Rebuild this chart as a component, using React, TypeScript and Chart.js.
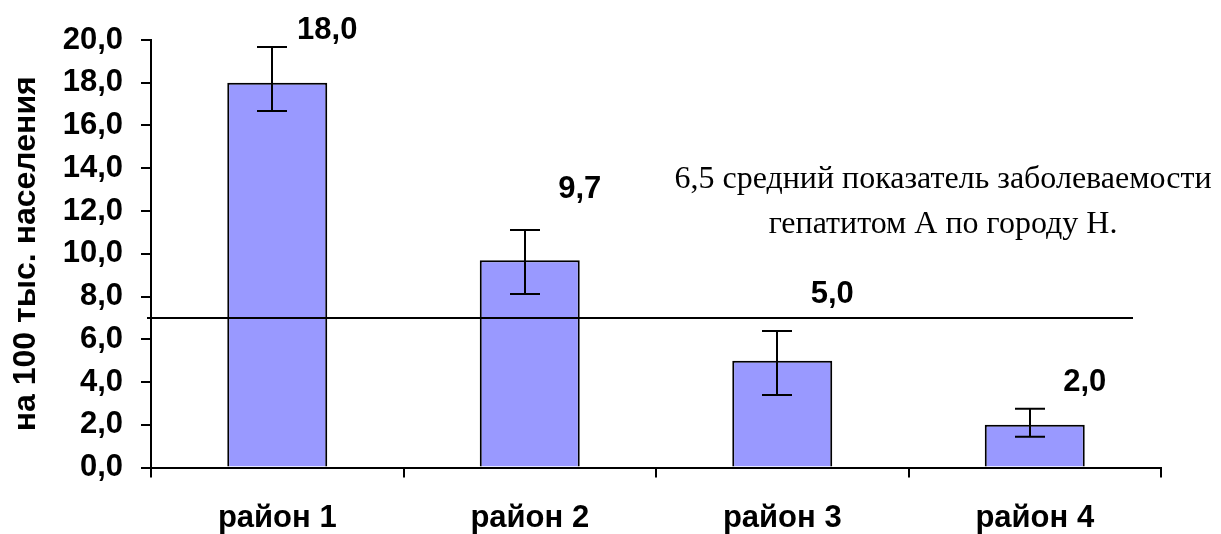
import React, { useEffect, useRef } from "react";
import { Chart, registerables } from "chart.js";

Chart.register(...registerables);

const categories = ["район 1", "район 2", "район 3", "район 4"];
const values = [18.0, 9.7, 5.0, 2.0];
const errHigh = [19.67, 11.11, 6.39, 2.75];
const errLow = [16.68, 8.12, 3.39, 1.44];
const labelAt = [20.45, 13.0, 8.1, 4.0];
const valueLabels = ["18,0", "9,7", "5,0", "2,0"];
const averageLine = 7.0;
const noteLines = ["6,5 средний показатель заболеваемости", "гепатитом А по городу Н."];
const yTitle = "на 100 тыс. населения";

const SANS = "'Liberation Sans', Arial, sans-serif";
const SERIF = "'Liberation Serif', 'Times New Roman', serif";

const overlay = {
  id: "overlay",
  afterDatasetsDraw(chart: any) {
    const ctx = chart.ctx;
    const ys = chart.scales.y;
    const meta = chart.getDatasetMeta(0);
    const area = chart.chartArea;
    ctx.save();
    // average line
    const ly = Math.round(ys.getPixelForValue(averageLine));
    ctx.strokeStyle = "#000";
    ctx.lineWidth = 2;
    ctx.beginPath();
    ctx.moveTo(area.left - 4, ly);
    ctx.lineTo(area.right - 28, ly);
    ctx.stroke();
    // error bars
    meta.data.forEach((bar: any, i: number) => {
      const x = Math.round(bar.x) - 5;
      const yh = ys.getPixelForValue(errHigh[i]);
      const yl = ys.getPixelForValue(errLow[i]);
      ctx.beginPath();
      ctx.moveTo(x, yh);
      ctx.lineTo(x, yl);
      ctx.moveTo(x - 15, yh);
      ctx.lineTo(x + 15, yh);
      ctx.moveTo(x - 15, yl);
      ctx.lineTo(x + 15, yl);
      ctx.stroke();
      // value labels
      ctx.fillStyle = "#000";
      ctx.font = `bold 31px ${SANS}`;
      ctx.textAlign = "center";
      ctx.textBaseline = "middle";
      ctx.fillText(valueLabels[i], bar.x + 50, ys.getPixelForValue(labelAt[i]));
    });
    // note
    ctx.font = `32px ${SERIF}`;
    ctx.textAlign = "center";
    ctx.textBaseline = "alphabetic";
    ctx.fillText(noteLines[0], area.left + 792, area.top + 148);
    ctx.fillText(noteLines[1], area.left + 792, area.top + 193);
    ctx.restore();
  },
};

export default function App() {
  const ref = useRef<HTMLCanvasElement>(null);
  useEffect(() => {
    const chart = new Chart(ref.current!, {
      type: "bar",
      data: {
        labels: categories,
        datasets: [
          {
            data: values,
            backgroundColor: "#9999FF",
            borderColor: "#000",
            borderWidth: 2,
            barPercentage: 0.396,
            categoryPercentage: 1,
          },
        ],
      },
      options: {
        animation: false,
        responsive: false,
        layout: { padding: { top: 40, right: 60, left: 0, bottom: 0 } },
        plugins: { legend: { display: false }, tooltip: { enabled: false } },
        scales: {
          x: {
            offset: true,
            grid: { offset: true, drawOnChartArea: false, drawTicks: true, tickLength: 10, color: "#000", lineWidth: 2 },
            border: { display: true, color: "#000", width: 2 },
            ticks: { color: "#000", font: { family: SANS, size: 31, weight: "bold" }, padding: 22 },
            afterFit: (s: any) => { s.height = 66.5; },
          },
          y: {
            min: 0,
            max: 20,
            ticks: {
              stepSize: 2,
              color: "#000",
              padding: 18,
              font: { family: SANS, size: 31, weight: "bold" },
              callback: (v: any) => Number(v).toFixed(1).replace(".", ","),
            },
            grid: { drawOnChartArea: false, drawTicks: true, tickLength: 10, color: "#000", lineWidth: 2 },
            border: { display: true, color: "#000", width: 2 },
            title: {
              display: true,
              text: yTitle,
              color: "#000",
              font: { family: SANS, size: 32, weight: "bold" },
              padding: { top: 7, bottom: 0 },
            },
            afterFit: (s: any) => { s.width = 151; },
          },
        },
      },
      plugins: [overlay],
    });
    return () => chart.destroy();
  }, []);
  return (
    <div style={{ position: "fixed", left: 0, top: 0, width: 1221, height: 534, background: "#fff" }}>
      <canvas ref={ref} width={1221} height={534} style={{ width: 1221, height: 534 }} />
    </div>
  );
}
